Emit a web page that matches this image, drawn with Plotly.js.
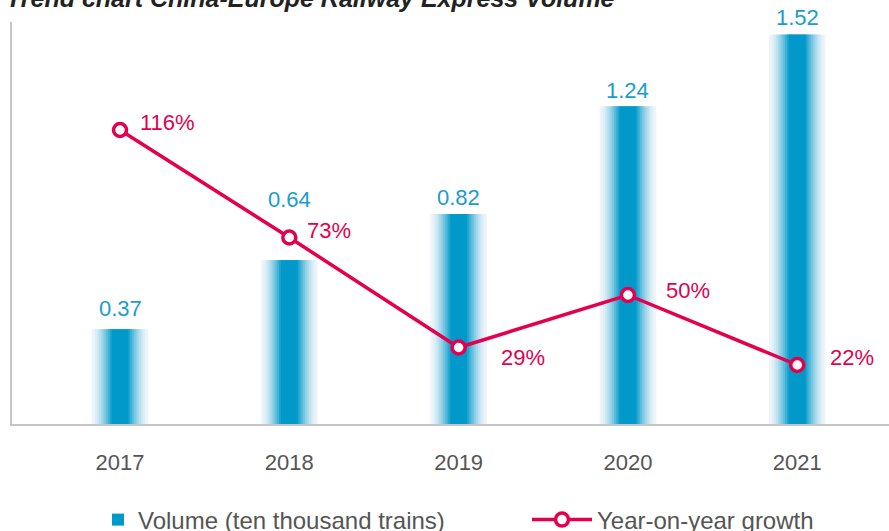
<!DOCTYPE html>
<html>
<head>
<meta charset="utf-8">
<script src="https://cdn.plot.ly/plotly-3.0.1.min.js"></script>
<style>
  html, body { margin: 0; padding: 0; background: #fff; }
  #chart { width: 889px; height: 531px; }
</style>
</head>
<body>
<div id="chart"></div>
<script>
// chart data
const years = ['2017', '2018', '2019', '2020', '2021'];
const volume = [0.37, 0.64, 0.82, 1.24, 1.52];
const growth = [116, 73, 29, 50, 22];
const volumeLabels = ['0.37', '0.64', '0.82', '1.24', '1.52'];
const growthLabels = ['116%', '73%', '29%', '50%', '22%'];

// label offsets (px from the mark)
const volumeShiftY = [6, 46, 2, 2, 3];
const growthShiftX = [18, 16, 40, 36, 31];
const growthShiftY = [8, 7, -10, 5, 8];

const red = '#e4004f';
const fontFam = '"Liberation Sans", Arial, sans-serif';

// fake a horizontal gradient on the bars by stacking overlay bars
const layers = 12;
const barWidthOuter = 0.335;
const barWidthInner = 0.1;
const lightCol = [240, 245, 250];
const darkCol = [0, 153, 201];

const traces = [];
for (let i = 0; i < layers; i++) {
  const t = i / (layers - 1);
  const w = barWidthOuter - (barWidthOuter - barWidthInner) * t;
  const c = lightCol.map((v, k) => Math.round(v + (darkCol[k] - v) * Math.pow(t, 1.5)));
  traces.push({
    type: 'bar',
    x: years,
    y: volume,
    width: years.map(() => w),
    marker: { color: `rgb(${c.join(',')})`, line: { width: 0 } },
    name: 'Volume (ten thousand trains)',
    showlegend: i === layers - 1,
    legend: 'legend',
    hoverinfo: 'skip'
  });
}

traces.push({
  type: 'scatter',
  mode: 'lines+markers',
  x: years,
  y: growth,
  yaxis: 'y2',
  name: 'Year-on-year growth',
  legend: 'legend2',
  line: { color: red, width: 3.5 },
  marker: { symbol: 'circle', size: 13, color: '#fff', line: { color: red, width: 3.5 } },
  cliponaxis: false
});

const annotations = [];
volume.forEach((v, i) => {
  annotations.push({
    x: i, y: v, xref: 'x', yref: 'y',
    text: volumeLabels[i], showarrow: false,
    yanchor: 'bottom', yshift: volumeShiftY[i],
    font: { family: fontFam, size: 22, color: '#1a9ccc' }
  });
});
growth.forEach((g, i) => {
  annotations.push({
    x: i, y: g, xref: 'x', yref: 'y2',
    text: growthLabels[i], showarrow: false,
    xanchor: 'left', yanchor: 'middle',
    xshift: growthShiftX[i], yshift: growthShiftY[i],
    font: { family: fontFam, size: 22, color: red }
  });
});
annotations.push({
  x: 0, xref: 'paper', y: 1, yref: 'paper',
  xanchor: 'left', yanchor: 'bottom', xshift: -8, yshift: 8,
  text: 'Trend chart China-Europe Railway Express Volume',
  showarrow: false,
  font: { family: fontFam, size: 25, color: '#222', weight: 'bold', style: 'italic' }
});

const legendFont = { family: fontFam, size: 24, color: '#555' };

const layout = {
  width: 889,
  height: 531,
  margin: { l: 12, r: 0, t: 22, b: 107, autoexpand: false },
  paper_bgcolor: '#fff',
  plot_bgcolor: '#fff',
  barmode: 'overlay',
  font: { family: fontFam, color: '#555' },
  xaxis: {
    type: 'category',
    range: [-0.638, 4.542],
    showline: true,
    linecolor: '#c4c4c4',
    linewidth: 2,
    ticks: '',
    ticklabelstandoff: 18,
    tickfont: { family: fontFam, size: 22, color: '#555' },
    showgrid: false,
    zeroline: false,
    fixedrange: true
  },
  yaxis: {
    range: [0, 1.57],
    showline: true,
    linecolor: '#c4c4c4',
    linewidth: 2,
    showticklabels: false,
    ticks: '',
    showgrid: false,
    zeroline: false
  },
  yaxis2: {
    overlaying: 'y',
    side: 'right',
    range: [-1.6, 159.2],
    showline: false,
    showticklabels: false,
    ticks: '',
    showgrid: false,
    zeroline: false
  },
  legend: {
    orientation: 'h',
    xref: 'container',
    x: 98 / 889,
    xanchor: 'left',
    yref: 'container',
    y: 11 / 531,
    yanchor: 'middle',
    itemwidth: 30,
    font: legendFont,
    bgcolor: 'rgba(0,0,0,0)'
  },
  legend2: {
    orientation: 'h',
    xref: 'container',
    x: 527 / 889,
    xanchor: 'left',
    yref: 'container',
    y: 11 / 531,
    yanchor: 'middle',
    itemwidth: 60,
    font: legendFont,
    bgcolor: 'rgba(0,0,0,0)'
  },
  annotations: annotations
};

Plotly.newPlot('chart', traces, layout, { displayModeBar: false, staticPlot: true });
</script>
</body>
</html>
